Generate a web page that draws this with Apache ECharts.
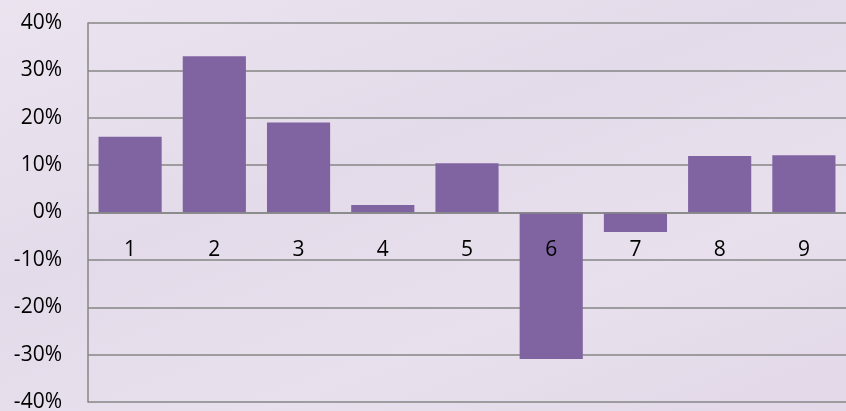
<!DOCTYPE html>
<html>
<head>
<meta charset="utf-8">
<style>
html,body{margin:0;padding:0;}
#c{width:846px;height:411px;background:linear-gradient(160deg,#ebe4ef 0%,#e4dbea 40%,#e8e0ed 70%,#e2d8e8 100%);}
</style>
<script src="https://cdn.jsdelivr.net/npm/echarts@6/dist/echarts.min.js"></script>
</head>
<body>
<div id="c"></div>
<script>
const categories = ['1','2','3','4','5','6','7','8','9'];
const values = [0.16, 0.33, 0.19, 0.016, 0.104, -0.309, -0.041, 0.119, 0.121];
const yMin = -0.4, yMax = 0.4, yStep = 0.1;

const gridTop = 23, gridBottom = 9, H = 411;
const plotH = H - gridTop - gridBottom;
// distance from bottom edge of plot to the zero line
const zeroOffset = plotH * (0 - yMin) / (yMax - yMin);

const chart = echarts.init(document.getElementById('c'));
chart.setOption({
  animation: false,
  grid: {left: 88, right: 0, top: gridTop, bottom: gridBottom, outerBoundsMode: 'none', containLabel: false},
  xAxis: {
    type: 'category',
    data: categories,
    position: 'bottom',
    offset: -zeroOffset,
    axisLine: {onZero: false, lineStyle: {color: '#868686', width: 1.5}},
    axisTick: {show: false},
    axisLabel: {color: '#000', fontSize: 21, fontFamily: 'Open Sans', margin: 27},
    z: 10
  },
  yAxis: {
    type: 'value',
    min: yMin, max: yMax, interval: yStep,
    axisLine: {show: true, lineStyle: {color: '#868686', width: 1.5}},
    axisTick: {show: false},
    splitLine: {lineStyle: {color: '#868686', width: 1.5}},
    axisLabel: {
      color: '#000', fontSize: 21, fontFamily: 'Open Sans', margin: 26,
      formatter: v => Math.round(v * 100) + '%'
    }
  },
  series: [{
    type: 'bar',
    data: values,
    barCategoryGap: '25%',
    itemStyle: {color: '#8064A2'}
  }]
});
</script>
</body>
</html>
